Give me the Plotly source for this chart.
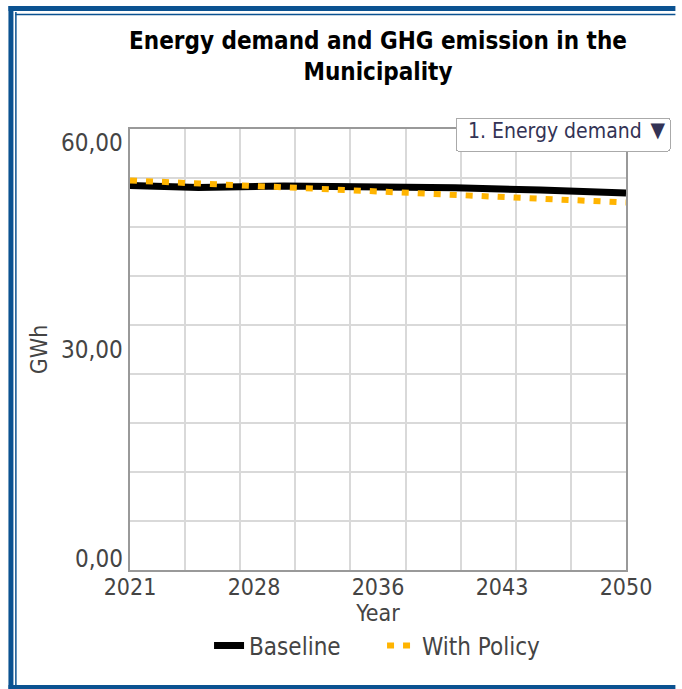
import numpy as np
import plotly.graph_objects as go

# ---- data ----
years = [2021, 2025, 2030, 2035, 2040, 2045, 2050]
baseline = [52.3, 52.05, 52.25, 52.2, 52.0, 51.7, 51.3]
with_policy = [53.0, 52.6, 52.15, 51.6, 50.95, 50.45, 50.0]
x_tick_labels = ["2021", "2028", "2036", "2043", "2050"]
y_tick_labels = ["0,00", "30,00", "60,00"]
y_tick_values = [0, 30, 60]

W, H = 682, 689
L, T = 130, 129
R = W - 632
B = H - 570
PW, PH = W - L - R, H - T - B

def px_x(p):
    """page pixel x -> paper coordinate"""
    return (p - L) / PW

def px_y(p):
    """page pixel y -> paper coordinate"""
    return (H - B - p) / PH

FONT = "Tahoma, 'DejaVu Sans Condensed', 'Noto Sans', sans-serif"
GRAY = "#444444"
BLUE = "#0B5291"

fig = go.Figure()
fig.add_trace(go.Scatter(x=years, y=baseline, name="Baseline", mode="lines",
                         line=dict(color="#000000", width=7)))
fig.add_trace(go.Scatter(x=years, y=with_policy, name="With Policy", mode="lines",
                         line=dict(color="#FFB400", width=6, dash="7px,9px")))

xmin, xmax = years[0], years[-1]
fig.update_xaxes(
    range=[xmin, xmax],
    tickmode="array",
    tickvals=list(np.linspace(xmin, xmax, len(x_tick_labels))),
    ticktext=x_tick_labels,
    showgrid=False,
    zeroline=False,
    showline=True, linecolor="#999999", linewidth=2, mirror=True,
    ticks="",
    ticklabelstandoff=-5,
    tickfont=dict(family=FONT, size=23, color=GRAY),
    title=dict(text="Year", font=dict(family=FONT, size=23, color=GRAY), standoff=6),
    minor=dict(tick0=xmin, dtick=(xmax - xmin) / 9, showgrid=True,
               gridcolor="#d9d9d9", gridwidth=2),
)
fig.update_yaxes(
    range=[0, 60],
    tick0=0, dtick=60 / 9,
    showgrid=True, gridcolor="#d9d9d9", gridwidth=2,
    zeroline=False,
    showline=True, linecolor="#999999", linewidth=2, mirror=True,
    ticks="",
    showticklabels=False,
    title=dict(text="GWh", font=dict(family=FONT, size=23, color=GRAY), standoff=74),
)

annotations = []
anchors = ["bottom", "middle", "top"]
shifts = [-5, 0, 2]
for v, t, a, s in zip(y_tick_values, y_tick_labels, anchors, shifts):
    annotations.append(dict(x=0, xref="paper", y=v, yref="y", text=t, showarrow=False,
                            xanchor="right", yanchor=a, xshift=-5, yshift=s,
                            font=dict(family=FONT, size=24, color=GRAY)))

# window frame: thick outer band plus thin inner rule (left, top, bottom)
shapes = []
for (x0, y0, x1, y1, w) in [
    (9.5, 6, 9.5, 689, 5),      # outer left
    (7, 8.5, 682, 8.5, 5),      # outer top
    (7, 687.5, 682, 687.5, 5),  # outer bottom
    (14.5, 12, 14.5, 686, 1.5), # inner left
    (14, 14.5, 682, 14.5, 1.5), # inner top
]:
    shapes.append(dict(type="line", xref="paper", yref="paper",
                       x0=px_x(x0), x1=px_x(x1), y0=px_y(y0), y1=px_y(y1),
                       line=dict(color=BLUE, width=w), layer="above"))

fig.update_layout(
    width=W, height=H,
    margin=dict(l=L, r=R, t=T, b=B),
    paper_bgcolor="white", plot_bgcolor="white",
    title=dict(text="Energy demand and GHG emission in the<br>Municipality",
               x=0.5, xref="paper", xanchor="center",
               y=1 - 49 / H, yref="container", yanchor="top",
               font=dict(family=FONT, size=24, color="#000000", weight="bold")),
    legend=dict(orientation="h", x=px_x(210), xanchor="left", y=px_y(646), yanchor="middle",
                entrywidth=128, entrywidthmode="pixels",
                font=dict(family=FONT, size=24, color=GRAY), bgcolor="rgba(0,0,0,0)"),
    annotations=annotations,
    shapes=shapes,
    updatemenus=[dict(
        type="dropdown", direction="down", showactive=True,
        x=px_x(676), xanchor="right", y=px_y(117), yanchor="top",
        bgcolor="white", bordercolor="#aaaaaa", borderwidth=1,
        font=dict(family=FONT, size=21, color="#333355"),
        pad=dict(t=0, r=0, b=0, l=0),
        buttons=[
            dict(label="1. Energy demand", method="skip", args=[None]),
            dict(label="2. GHG emission", method="skip", args=[None]),
        ],
    )],
)

fig.write_html(
    "out.html",
    config={"displayModeBar": False},
    post_script="document.body.style.margin='0';document.body.style.overflow='hidden';",
)
